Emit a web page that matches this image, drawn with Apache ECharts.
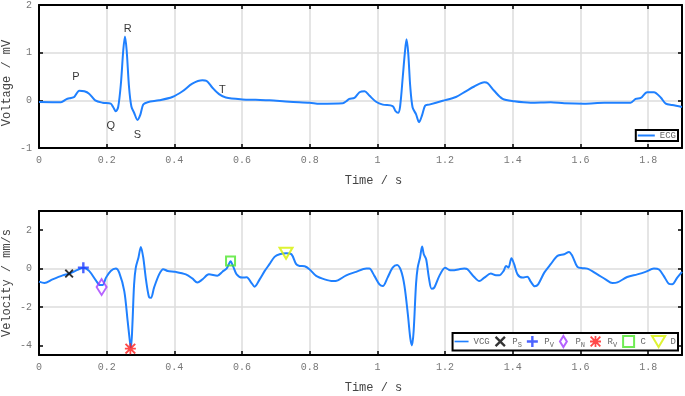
<!DOCTYPE html>
<html>
<head>
<meta charset="utf-8">
<script src="https://cdn.jsdelivr.net/npm/echarts@6/dist/echarts.min.js"></script>
<style>
html, body { margin: 0; padding: 0; background: #fff; }
#chart { width: 685px; height: 396px; }
</style>
</head>
<body>
<div id="chart"></div>
<script>
// ECG trace: [time s, voltage mV]
const ecgPoints = [
    [0, -0.035], [0.065, -0.04], [0.08, 0.02], [0.094, 0.05], [0.104, 0.07], [0.119, 0.2], [0.134, 0.19],
    [0.148, 0.14], [0.166, 0.0], [0.188, -0.05], [0.212, -0.07], [0.219, -0.14], [0.227, -0.23], [0.234, -0.14],
    [0.242, 0.35], [0.249, 1.05], [0.254, 1.34], [0.259, 1.05], [0.266, 0.28], [0.273, -0.13], [0.281, -0.26],
    [0.291, -0.41], [0.299, -0.31], [0.308, -0.09], [0.321, -0.04], [0.355, 0.0], [0.394, 0.07], [0.424, 0.19],
    [0.453, 0.35], [0.483, 0.42], [0.495, 0.41], [0.512, 0.27], [0.532, 0.13], [0.552, 0.06], [0.601, 0.02],
    [0.64, 0.01], [0.681, 0.0], [0.74, -0.03], [0.8, -0.05], [0.829, -0.07], [0.898, -0.06], [0.908, -0.02],
    [0.917, 0.03], [0.932, 0.05], [0.947, 0.17], [0.962, 0.19], [0.976, 0.1], [0.996, -0.03], [1.016, -0.09],
    [1.045, -0.12], [1.053, -0.22], [1.061, -0.26], [1.067, -0.13], [1.075, 0.5], [1.081, 0.99], [1.086, 1.28],
    [1.091, 0.99], [1.097, 0.29], [1.104, -0.15], [1.114, -0.29], [1.123, -0.46], [1.132, -0.31], [1.141, -0.11],
    [1.153, -0.09], [1.193, -0.01], [1.232, 0.07], [1.261, 0.19], [1.286, 0.29], [1.316, 0.38], [1.326, 0.36],
    [1.345, 0.2], [1.37, 0.03], [1.404, -0.02], [1.453, -0.05], [1.512, -0.04], [1.552, -0.06], [1.611, -0.07],
    [1.67, -0.05], [1.748, -0.05], [1.763, 0.03], [1.778, 0.05], [1.797, 0.17], [1.817, 0.17], [1.837, 0.06],
    [1.852, -0.07], [1.871, -0.1], [1.9, -0.14]
];

// VCG trace: [time s, velocity mm/s]
const vcgPoints = [
    [0, -0.68], [0.016, -0.75], [0.04, -0.56], [0.07, -0.35], [0.089, -0.26], [0.114, -0.07], [0.131, 0.05],
    [0.148, -0.12], [0.168, -0.61], [0.18, -0.86], [0.188, -0.86], [0.198, -0.47], [0.212, -0.12], [0.227, 0.0],
    [0.237, -0.21], [0.252, -1.17], [0.262, -2.74], [0.27, -4.0], [0.272, -4.1], [0.276, -2.91], [0.281, -0.82],
    [0.286, 0.05], [0.294, 0.58], [0.301, 1.13], [0.308, 0.58], [0.316, -0.56], [0.325, -1.48], [0.331, -1.52],
    [0.34, -0.99], [0.355, -0.3], [0.367, -0.03], [0.38, -0.12], [0.404, -0.17], [0.434, -0.3], [0.453, -0.51],
    [0.468, -0.73], [0.483, -0.56], [0.502, -0.3], [0.527, -0.37], [0.542, -0.16], [0.554, 0.0], [0.559, 0.15],
    [0.566, 0.38], [0.574, 0.1], [0.584, -0.3], [0.6, -0.47], [0.614, -0.45], [0.626, -0.7], [0.637, -0.94],
    [0.652, -0.56], [0.667, -0.12], [0.681, 0.23], [0.696, 0.61], [0.711, 0.75], [0.731, 0.8], [0.746, 0.75],
    [0.76, 0.23], [0.77, 0.14], [0.785, 0.12], [0.799, -0.03], [0.819, -0.38], [0.844, -0.56], [0.868, -0.65],
    [0.883, -0.61], [0.908, -0.35], [0.937, -0.17], [0.967, 0.0], [0.976, 0.0], [0.991, -0.38], [1.006, -0.82],
    [1.016, -0.91], [1.03, -0.47], [1.045, 0.05], [1.058, 0.19], [1.07, -0.12], [1.08, -0.91], [1.09, -2.39],
    [1.097, -3.61], [1.102, -4.0], [1.107, -3.26], [1.114, -0.82], [1.119, 0.05], [1.126, 0.58], [1.132, 1.15],
    [1.137, 0.75], [1.144, 0.49], [1.152, -0.47], [1.16, -1.05], [1.168, -0.99], [1.183, -0.38], [1.2, 0.05],
    [1.212, -0.07], [1.222, -0.09], [1.242, -0.03], [1.257, 0.0], [1.266, -0.03], [1.286, -0.44], [1.301, -0.65],
    [1.316, -0.47], [1.335, -0.26], [1.35, -0.35], [1.36, -0.35], [1.373, -0.12], [1.38, 0.14], [1.387, 0.05],
    [1.396, 0.54], [1.404, 0.23], [1.414, -0.3], [1.429, -0.47], [1.443, -0.42], [1.453, -0.68], [1.465, -0.92],
    [1.475, -0.82], [1.493, -0.21], [1.512, 0.23], [1.532, 0.66], [1.552, 0.75], [1.566, 0.87], [1.576, 0.66],
    [1.591, 0.09], [1.606, 0.02], [1.62, 0.0], [1.65, -0.3], [1.674, -0.56], [1.694, -0.75], [1.709, -0.72],
    [1.738, -0.44], [1.768, -0.3], [1.792, -0.17], [1.817, 0.0], [1.832, -0.05], [1.846, -0.38], [1.861, -0.79],
    [1.871, -0.82], [1.886, -0.47], [1.9, -0.17]
];

// wave labels on the ECG panel
const waveLabels = ['P', 'Q', 'R', 'S', 'T'];
const waveTime = [0.109, 0.212, 0.262, 0.291, 0.542];
const waveVolt = [0.49, -0.54, 1.49, -0.72, 0.22];

// feature points on the VCG panel
const markerNames = ['P_S', 'P_V', 'P_N', 'R_V', 'C', 'D'];
const markerTime = [0.089, 0.131, 0.185, 0.27, 0.566, 0.73];
const markerVel = [-0.26, 0.05, -0.96, -4.17, 0.4, 0.8];

const velTicks = [-4, -2, 0, 2];

const MONO = '"Liberation Mono", "DejaVu Sans Mono", monospace';
const LINE = '#1f80ff';

const plusPath = 'path://M3.9,0 H6.1 V3.9 H10 V6.1 H6.1 V10 H3.9 V6.1 H0 V3.9 H3.9 Z';
const crossPath = 'path://M1.5,0 L5,3.5 L8.5,0 L10,1.5 L6.5,5 L10,8.5 L8.5,10 L5,6.5 L1.5,10 L0,8.5 L3.5,5 L0,1.5 Z';
const starPath = 'path://M4.2,0 H5.8 V4.2 H10 V5.8 H5.8 V10 H4.2 V5.8 H0 V4.2 H4.2 Z ' +
    'M1.2,0 L5,3.8 L8.8,0 L10,1.2 L6.2,5 L10,8.8 L8.8,10 L5,6.2 L1.2,10 L0,8.8 L3.8,5 L0,1.2 Z';
const linePath = 'path://M0,0 H17 V2 H0 Z';
const markerStyle = [
    {symbol: crossPath, size: 9, itemStyle: {color: '#000'}},
    {symbol: plusPath, size: 11, itemStyle: {color: '#1f3cff'}},
    {symbol: 'path://M5,0 L10,8 L5,16 L0,8 Z', size: [10, 16],
        itemStyle: {color: 'rgba(0,0,0,0)', borderColor: '#a33cff', borderWidth: 2}},
    {symbol: starPath, size: 11, itemStyle: {color: '#ff1a1a'}},
    {symbol: 'path://M0,0 H10 V10 H0 Z', size: 9,
        itemStyle: {color: 'rgba(0,0,0,0)', borderColor: '#4ce62a', borderWidth: 2}},
    {symbol: 'path://M0,0 H12 L6,10 Z', size: [13, 11],
        itemStyle: {color: 'rgba(0,0,0,0)', borderColor: '#d6f000', borderWidth: 2}}
];

const frameLine = {show: true, onZero: false, lineStyle: {color: '#000', width: 2}};
const innerTick = {show: true, inside: true, length: 4, lineStyle: {color: '#000', width: 1.5}};
const gridSplit = {show: true, showMinLine: false, showMaxLine: false, lineStyle: {color: '#dcdcdc', width: 1.5}};
const tickLabel = {fontFamily: MONO, fontSize: 10, color: '#777', margin: 7};
const axisName = {fontFamily: MONO, fontSize: 12, color: '#444'};

function timeAxis(grid, top) {
    return {
        type: 'value', gridIndex: grid, position: top ? 'top' : 'bottom',
        min: 0, max: 1.9, interval: 0.2,
        axisLine: frameLine, axisTick: innerTick,
        axisLabel: top ? {show: false} : Object.assign({showMaxLabel: false}, tickLabel),
        splitLine: top ? {show: false} : gridSplit,
        name: top ? '' : 'Time / s', nameLocation: 'middle', nameGap: 27, nameMoveOverlap: false,
        nameTextStyle: Object.assign({padding: [0, 0, 0, 26]}, axisName)
    };
}

const chart = echarts.init(document.getElementById('chart'));

const series = [
    {
        name: 'ECG', type: 'line', xAxisIndex: 0, yAxisIndex: 0,
        data: ecgPoints, symbol: 'none', showSymbol: false, smooth: 0.3,
        lineStyle: {color: LINE, width: 2}, itemStyle: {color: LINE}, z: 3
    },
    {
        name: 'labels', type: 'scatter', xAxisIndex: 0, yAxisIndex: 0, symbolSize: 0, silent: true,
        data: waveLabels.map((l, i) => ({name: l, value: [waveTime[i], waveVolt[i]]})),
        label: {show: true, position: 'inside', formatter: '{b}', color: '#000', fontSize: 11,
            fontFamily: '"Liberation Sans", Arial, sans-serif'}
    },
    {
        name: 'VCG', type: 'line', xAxisIndex: 2, yAxisIndex: 2,
        data: vcgPoints, symbol: 'none', showSymbol: false, smooth: 0.3,
        lineStyle: {color: LINE, width: 2}, itemStyle: {color: LINE}, z: 3
    }
];
markerNames.forEach((n, i) => {
    series.push({
        name: n, type: 'scatter', xAxisIndex: 2, yAxisIndex: 2, z: 5,
        symbol: markerStyle[i].symbol, symbolSize: markerStyle[i].size,
        itemStyle: markerStyle[i].itemStyle,
        data: [[markerTime[i], markerVel[i]]]
    });
});

const legendText = {
    fontFamily: MONO, fontSize: 9, color: '#666',
    rich: {
        m: {fontFamily: MONO, fontSize: 9, color: '#666', lineHeight: 14, verticalAlign: 'middle'},
        s: {fontFamily: MONO, fontSize: 7, color: '#666', verticalAlign: 'bottom', lineHeight: 9}
    }
};

const option = {
    animation: false,
    backgroundColor: '#fff',
    grid: [
        {left: 39, right: 3, top: 5, height: 143, containLabel: false, outerBoundsMode: 'none'},
        {left: 39, right: 3, top: 211, height: 144, containLabel: false, outerBoundsMode: 'none'}
    ],
    xAxis: [timeAxis(0, false), timeAxis(0, true), timeAxis(1, false), timeAxis(1, true)],
    yAxis: [
        {
            type: 'value', gridIndex: 0, min: -1, max: 2, interval: 1,
            axisLine: frameLine, axisTick: innerTick, axisLabel: tickLabel, splitLine: gridSplit,
            name: 'Voltage / mV', nameLocation: 'middle', nameGap: 26, nameMoveOverlap: false,
            nameTextStyle: Object.assign({padding: [0, 13, 0, 0]}, axisName)
        },
        {
            type: 'value', gridIndex: 0, position: 'right', min: -1, max: 2, interval: 1,
            axisLine: frameLine, axisTick: innerTick, axisLabel: {show: false}, splitLine: {show: false}
        },
        {
            type: 'value', gridIndex: 1, min: -4.5, max: 3,
            axisLine: frameLine,
            axisTick: Object.assign({customValues: velTicks}, innerTick),
            axisLabel: Object.assign({customValues: velTicks}, tickLabel),
            splitLine: gridSplit,
            name: 'Velocity / mm/s', nameLocation: 'middle', nameGap: 26, nameMoveOverlap: false,
            nameTextStyle: axisName
        },
        {
            type: 'value', gridIndex: 1, position: 'right', min: -4.5, max: 3,
            axisLine: frameLine,
            axisTick: Object.assign({customValues: velTicks}, innerTick),
            axisLabel: {show: false, customValues: velTicks}, splitLine: {show: false}
        }
    ],
    legend: [
        {
            data: [{name: 'ECG', icon: linePath}], right: 7, top: 130, padding: [1, 2], itemGap: 6,
            itemWidth: 17, itemHeight: 10, borderColor: '#000', borderWidth: 2, borderRadius: 0,
            backgroundColor: '#fff', textStyle: legendText, selectedMode: false
        },
        {
            data: [{name: 'VCG', icon: linePath}].concat(markerNames), right: 7, top: 333,
            padding: [2, 2], itemGap: 5,
            itemWidth: 14, itemHeight: 11, borderColor: '#000', borderWidth: 2, borderRadius: 0,
            backgroundColor: '#fff', textStyle: legendText, selectedMode: false,
            formatter: function (name) {
                const p = name.split('_');
                return p.length > 1 ? '{m|' + p[0] + '}{s|' + p[1] + '}' : '{m|' + name + '}';
            }
        }
    ],
    series: series
};

chart.setOption(option);
</script>
</body>
</html>
